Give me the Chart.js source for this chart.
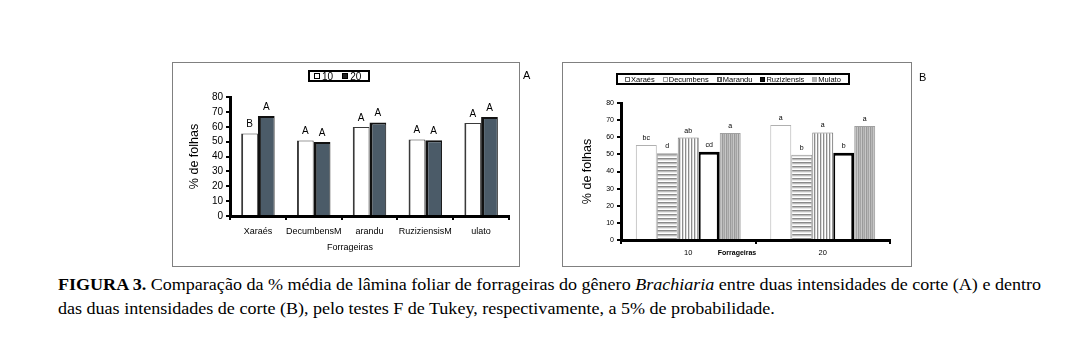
<!DOCTYPE html>
<html><head><meta charset="utf-8">
<script src="https://cdn.jsdelivr.net/npm/chart.js@4.4.0/dist/chart.umd.min.js"></script>
<style>
html,body{margin:0;padding:0;background:#fff;}
body{width:1080px;height:357px;position:relative;overflow:hidden;font-family:Arial,"Liberation Sans",sans-serif;color:#000;}
.frame{position:absolute;border:1px solid #808080;box-sizing:border-box;pointer-events:none;}
.cv{position:absolute;}
.tag{position:absolute;font-size:11px;}
.leg{position:absolute;border:2px solid #000;box-sizing:border-box;background:#fff;display:flex;align-items:center;white-space:nowrap;}
.sw{display:inline-block;box-sizing:border-box;flex:none;}
.cap{position:absolute;left:58px;font-family:"Liberation Serif","Times New Roman",serif;font-size:16px;line-height:24px;white-space:nowrap;transform-origin:0 0;}
</style></head>
<body>
<canvas id="cA" class="cv" style="left:172px;top:62px;width:347px;height:204px" width="347" height="204"></canvas>
<div class="frame" style="left:172px;top:62px;width:348px;height:205px"></div>
<div class="tag" style="left:523px;top:69px">A</div>

<canvas id="cB" class="cv" style="left:562px;top:62px;width:349px;height:204px" width="349" height="204"></canvas>
<div class="frame" style="left:562px;top:62px;width:350px;height:205px"></div>
<div class="tag" style="left:919px;top:71px">B</div>

<div id="legA" class="leg" style="left:308px;top:70px;width:62px;height:12px;font-size:10px;padding-left:4px"></div>
<div id="legB" class="leg" style="left:616px;top:73px;width:234px;height:12px;font-size:7.5px;padding-left:7px"></div>

<div id="cap1" class="cap" style="top:273px"><b>FIGURA 3.</b> Comparação da % média de lâmina foliar de forrageiras do gênero <i>Brachiaria</i> entre duas intensidades de corte (A) e dentro</div>
<div id="cap2" class="cap" style="top:297px">das duas intensidades de corte (B), pelo testes F de Tukey, respectivamente, a 5% de probabilidade.</div>

<script>
// ---------- data ----------
const forrageirasA = ['Xaraés', 'DecumbensM', 'arandu', 'RuziziensisM', 'ulato'];
const cutLabels = ['10', '20'];
const speciesNames = ['Xaraés', 'Decumbens', 'Marandu', 'Ruziziensis', 'Mulato'];
const cut10 = [55.5, 50.7, 59.8, 51.5, 62.5];
const cut20 = [67.2, 49.8, 62.8, 51.0, 66.5];
const lettersA10 = ['B', 'A', 'A', 'A', 'A'];
const lettersA20 = ['A', 'A', 'A', 'A', 'A'];
const lettersB10 = ['bc', 'd', 'ab', 'cd', 'a'];
const lettersB20 = ['a', 'b', 'a', 'b', 'a'];
const yTicks = [0, 10, 20, 30, 40, 50, 60, 70, 80];

// ---------- patterns ----------
function pattern(w, h, draw) {
  const c = document.createElement('canvas'); c.width = w; c.height = h;
  const g = c.getContext('2d'); draw(g);
  return g.createPattern(c, 'repeat');
}
const horiz = pattern(4, 4, g => {
  const cols = ['#8a8a8a', '#bdbdbd', '#e8e8e8', '#ffffff'];
  cols.forEach((c, i) => { g.fillStyle = c; g.fillRect(0, i, 4, 1); });
});
const vert = pattern(3, 3, g => {
  const cols = ['#8c8c8c', '#dcdcdc', '#ffffff'];
  cols.forEach((c, i) => { g.fillStyle = c; g.fillRect(i, 0, 1, 3); });
});
const vertDark = pattern(4, 4, g => {
  const cols = ['#9a9a9a', '#b8b8b8', '#a4a4a4', '#c6c6c6'];
  cols.forEach((c, i) => { g.fillStyle = c; g.fillRect(i, 0, 1, 4); });
});

// ---------- plugins ----------
const barLetters = {
  id: 'barLetters',
  afterDatasetsDraw(chart, args, opts) {
    const ctx = chart.ctx;
    ctx.save();
    ctx.font = opts.font; ctx.fillStyle = '#000';
    ctx.textAlign = 'center'; ctx.textBaseline = 'middle';
    chart.data.datasets.forEach((ds, di) => {
      const meta = chart.getDatasetMeta(di);
      meta.data.forEach((el, i) => {
        ctx.fillText(ds.letters[i], el.x, el.y - opts.offset);
      });
    });
    ctx.restore();
  }
};
const xTitle = {
  id: 'xTitle',
  afterDraw(chart, args, opts) {
    const ctx = chart.ctx;
    ctx.save();
    ctx.font = opts.font; ctx.fillStyle = '#000';
    ctx.textAlign = 'center'; ctx.textBaseline = 'middle';
    ctx.fillText(opts.text, opts.x, opts.y);
    ctx.restore();
  }
};

function scalesFor(cfg) {
  return {
    x: {
      afterFit: s => { s.height = cfg.xh; },
      grid: { display: true, drawOnChartArea: false, drawTicks: true, tickLength: 4, color: '#000', lineWidth: 2, offset: true },
      border: { display: true, color: '#000', width: 3 },
      ticks: { color: '#000', font: { size: cfg.xfont, family: 'Arial' }, padding: cfg.xpad, maxRotation: 0, autoSkip: false }
    },
    y: {
      min: 0, max: 80,
      afterFit: s => { s.width = cfg.yw; },
      afterBuildTicks: s => { s.ticks = yTicks.map(v => ({ value: v })); },
      grid: { display: true, drawOnChartArea: false, drawTicks: true, tickLength: 4, color: '#000', lineWidth: 2 },
      border: { display: true, color: '#000', width: 3 },
      ticks: { color: '#000', font: { size: cfg.yfont, family: 'Arial' }, padding: 3, autoSkip: false, stepSize: 10 },
      title: { display: true, text: '% de folhas', color: '#000', font: { size: 12.5, family: 'Arial' }, padding: { top: cfg.tpad, bottom: 0 } }
    }
  };
}

// ---------- Chart A ----------
new Chart(document.getElementById('cA'), {
  type: 'bar',
  data: {
    labels: forrageirasA,
    datasets: [
      { label: '10', data: cut10, letters: lettersA10, backgroundColor: '#ffffff', borderColor: '#3a3a3a', borderWidth: { left: 2, right: 1, top: 1, bottom: 0 } },
      { label: '20', data: cut20, letters: lettersA20, backgroundColor: '#4b5b68', borderColor: '#111', borderWidth: { left: 3, right: 1, top: 2, bottom: 0 } }
    ]
  },
  options: {
    responsive: false, animation: false, devicePixelRatio: 1,
    layout: { padding: { left: 0, top: 35, right: 10, bottom: 0 } },
    datasets: { bar: { categoryPercentage: 0.6, barPercentage: 1 } },
    plugins: {
      legend: { display: false }, tooltip: { enabled: false },
      barLetters: { font: '10px Arial', offset: 9 },
      xTitle: { text: 'Forrageiras', font: '9px Arial', x: 178, y: 186 }
    },
    scales: scalesFor({ xh: 50, yw: 58, xfont: 9, yfont: 10, xpad: 6, tpad: 15 })
  },
  plugins: [barLetters, xTitle]
});

// ---------- Chart B ----------
const fillsB = ['#ffffff', horiz, vert, '#ffffff', vertDark];
const bordersB = ['#b0b0b0', '#9a9a9a', '#777', '#000', '#a0a0a0'];
const bwB = [1, 1, 1, { top: 3, left: 2, right: 3, bottom: 0 }, 1];
new Chart(document.getElementById('cB'), {
  type: 'bar',
  data: {
    labels: cutLabels,
    datasets: speciesNames.map((n, i) => ({
      label: n,
      data: [cut10[i], cut20[i]],
      letters: [lettersB10[i], lettersB20[i]],
      backgroundColor: fillsB[i], borderColor: bordersB[i], borderWidth: bwB[i]
    }))
  },
  options: {
    responsive: false, animation: false, devicePixelRatio: 1,
    layout: { padding: { left: 0, top: 41, right: 21, bottom: 0 } },
    datasets: { bar: { categoryPercentage: 0.78, barPercentage: 1 } },
    plugins: {
      legend: { display: false }, tooltip: { enabled: false },
      barLetters: { font: '7px Arial', offset: 7 },
      xTitle: { text: 'Forrageiras', font: 'bold 7px Arial', x: 175, y: 191 }
    },
    scales: scalesFor({ xh: 26, yw: 59, xfont: 7.5, yfont: 7, xpad: 4, tpad: 18 })
  },
  plugins: [barLetters, xTitle]
});

// ---------- HTML legends ----------
function sw(size, style) { return `<span class="sw" style="width:${size}px;height:${size}px;${style}"></span>`; }
document.getElementById('legA').innerHTML =
  sw(6, 'background:#fff;border:1px solid #000;') + '<span style="margin:0 9px 0 2px">10</span>' +
  sw(6, 'background:#222;border:1px solid #000;') + '<span style="margin-left:2px">20</span>';
const legSw = [
  'background:#fff;border:1px solid #666;',
  'background:#fff;border:1px solid #999;',
  'background:repeating-linear-gradient(90deg,#777 0 1px,#fff 1px 2px);border:1px solid #555;',
  'background:#111;border:1px solid #000;',
  'background:#b0b0b0;border:1px solid #aaa;'
];
document.getElementById('legB').innerHTML = speciesNames.map((n, i) =>
  sw(5, legSw[i]) + `<span style="margin:0 ${i < 4 ? 8 : 0}px 0 1px">${n}</span>`).join('');

// ---------- caption fit ----------
const c1 = document.getElementById('cap1'), c2 = document.getElementById('cap2');
const k = 983 / c1.getBoundingClientRect().width;
c1.style.transform = `scaleX(${k})`; c2.style.transform = `scaleX(${k})`;
</script>
</body></html>
